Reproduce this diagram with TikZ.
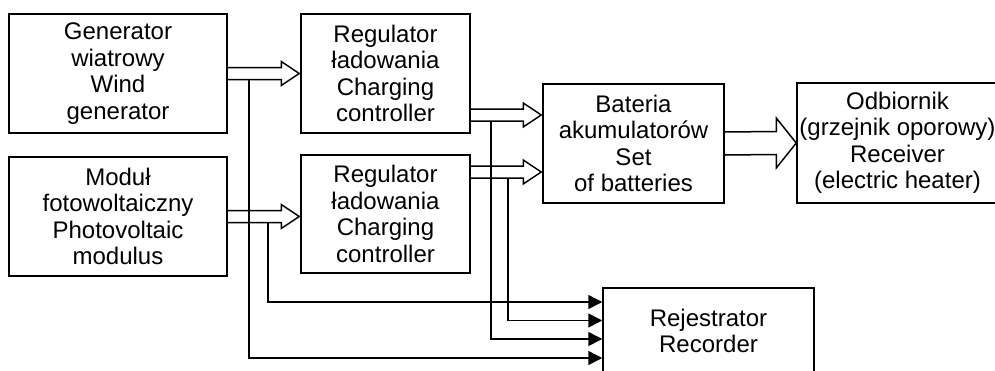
\documentclass[tikz,border=0pt]{standalone}
\usepackage{fontspec}
\setmainfont{Liberation Sans}
\usetikzlibrary{arrows.meta, calc, math}

\begin{document}
\begin{tikzpicture}[x=1pt, y=-1pt,
  blok/.style={draw, line width=1.5pt, align=center, inner sep=0pt,
    font=\fontsize{24}{26.5}\selectfont},
  fat/.style n args={3}{line width=1.5pt, to path={
    ($(\tikztostart)+(0,#1)$) -- ($(\tikztotarget)+(-#3,#1)$)
    -- ($(\tikztotarget)+(-#3,#2)$) -- (\tikztotarget)
    -- ($(\tikztotarget)+(-#3,-#2)$) -- ($(\tikztotarget)+(-#3,-#1)$)
    -- ($(\tikztostart)+(0,-#1)$)}},
  sig/.style={line width=1.5pt, -{Triangle[length=14pt,width=14pt]}}]
\tikzmath{
\bw=6;
\bh=12;
\bl=18;
\dy=28.5;
}
\useasboundingbox (0,0) rectangle (995,370);

\node[blok, minimum width=218, minimum height=119] (gen) at (118,73.5)
  {Generator\\wiatrowy\\Wind\\generator};
\node[blok, minimum width=218, minimum height=119] (pv) at (118,216.5)
  {Moduł\\fotowoltaiczny\\Photovoltaic\\modulus};
\node[blok, minimum width=169, minimum height=119] (r1) at (385.5,73.5)
  {Regulator\\ładowania\\Charging\\controller};
\node[blok, minimum width=169, minimum height=118] (r2) at (385.5,214)
  {Regulator\\ładowania\\Charging\\controller};
\node[blok, minimum width=181, minimum height=119] (bat) at (633.5,143.5)
  {Bateria\\akumulatorów\\Set\\of batteries};
\node[blok, minimum width=201, minimum height=120] (odb) at (897.5,143)
  {Odbiornik\\(grzejnik oporowy)\\Receiver\\(electric heater)};
\node[blok, minimum width=211, minimum height=86] (rec) at (708.5,331)
  {Rejestrator\\Recorder};

% hollow power arrows
\coordinate (g2) at ($(r1.west)+(-1,0)$);
\coordinate (p1) at (pv.east);
\coordinate (p2) at ($(r2.west |- pv.east)+(-1,0)$);
\coordinate (b1) at ($(bat.west)+(-1,-\dy)$);
\coordinate (b2) at ($(bat.west)+(-1,\dy)$);
\coordinate (a1) at (r1.east |- b1);
\coordinate (a2) at (r2.east |- b2);
\draw[fat={\bw}{\bh}{\bl}] (gen.east) to (g2);
\draw[fat={\bw}{\bh}{\bl}] (p1) to (p2);
\draw[fat={\bw}{\bh}{\bl}] (a1) to (b1);
\draw[fat={\bw}{\bh}{\bl}] (a2) to (b2);
\draw[fat={11.5}{25}{20}] (bat.east) to (odb.west);

% measurement lines to the recorder
\coordinate (t1) at ($(gen.east)+(21,\bw)$);
\coordinate (t2) at ($(p1)+(40,\bw)$);
\coordinate (t3) at ($(a1)+(20,\bw)$);
\coordinate (t4) at ($(a2)+(37,\bw)$);
\coordinate (in1) at ($(rec.west)+(0,-29)$);
\coordinate (in2) at ($(rec.west)+(0,-10.5)$);
\coordinate (in3) at ($(rec.west)+(0,8)$);
\coordinate (in4) at ($(rec.west)+(0,27)$);
\draw[sig] (t2) |- (in1);
\draw[sig] (t4) |- (in2);
\draw[sig] (t3) |- (in3);
\draw[sig] (t1) |- (in4);
\end{tikzpicture}
\end{document}
